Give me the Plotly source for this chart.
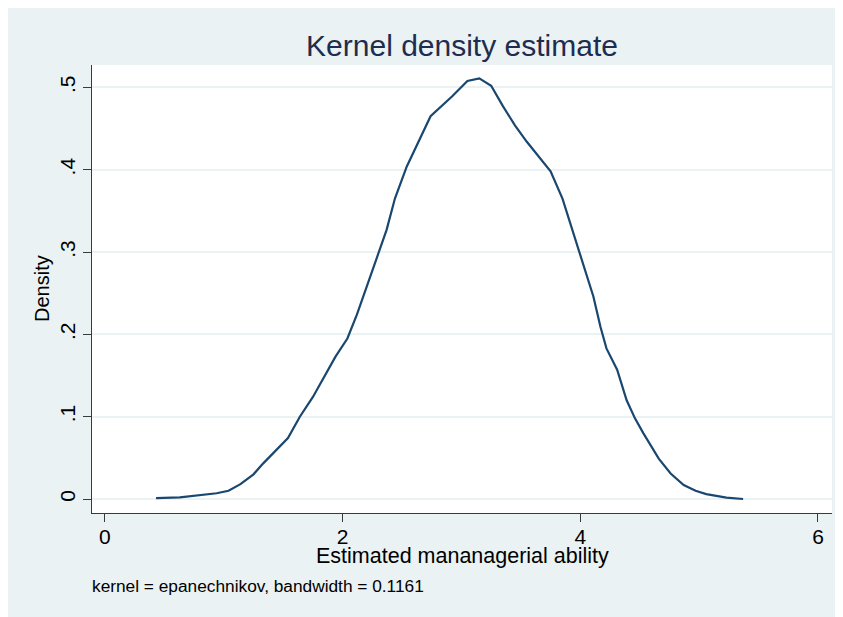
import plotly.graph_objects as go

# Data (kdensity curve)
ability = [0.43, 0.63, 0.94, 1.04, 1.14, 1.25, 1.33, 1.54, 1.64, 1.75, 1.94, 2.04,
           2.12, 2.20, 2.29, 2.37, 2.44, 2.54, 2.65, 2.74, 2.92, 3.05, 3.15, 3.25,
           3.35, 3.45, 3.55, 3.75, 3.85, 4.00, 4.05, 4.11, 4.17, 4.22, 4.31, 4.39,
           4.46, 4.53, 4.66, 4.76, 4.87, 4.97, 5.06, 5.23, 5.37]
density = [0.001, 0.002, 0.007, 0.010, 0.018, 0.030, 0.043, 0.074, 0.100, 0.124, 0.173, 0.195,
           0.224, 0.258, 0.294, 0.327, 0.365, 0.404, 0.438, 0.465, 0.489, 0.508, 0.511, 0.502,
           0.477, 0.454, 0.434, 0.398, 0.365, 0.298, 0.274, 0.246, 0.209, 0.183, 0.157, 0.120,
           0.098, 0.080, 0.049, 0.031, 0.017, 0.010, 0.006, 0.0016, 0.0]

x_ticks = [0, 2, 4, 6]
x_tick_labels = ["0", "2", "4", "6"]
y_ticks = [0, 0.1, 0.2, 0.3, 0.4, 0.5]
y_tick_labels = ["0", ".1", ".2", ".3", ".4", ".5"]

W, H = 843, 617
ML, MR, MT, MB = 84, 19, 57, 112
PW, PH = W - ML - MR, H - MT - MB

def px_x(p):
    return (p - ML) / PW

def px_y(p):
    return (H - MB - p) / PH

FONT = "Liberation Sans, Arial, sans-serif"
BG = "#EAF2F3"
NAVY = "#1A476F"
AXIS = "#3a3a3a"

fig = go.Figure()
fig.add_trace(go.Scatter(x=ability, y=density, mode="lines",
                         line=dict(color=NAVY, width=2.2), hoverinfo="skip",
                         showlegend=False))

fig.update_layout(
    width=W, height=H,
    margin=dict(l=ML, r=MR, t=MT, b=MB, pad=0),
    paper_bgcolor=BG, plot_bgcolor="white",
    font=dict(family=FONT, color="black"),
    title=dict(text="Kernel density estimate", x=0.5, xref="paper",
               y=1 - 37 / H, yref="container", yanchor="middle", xanchor="center",
               font=dict(family=FONT, size=30, color="#1E2D4F")),
    xaxis=dict(range=[-0.109, 6.118], tickvals=x_ticks, ticktext=x_tick_labels,
               showgrid=False, zeroline=False, showline=True, linecolor=AXIS,
               linewidth=1, ticks="outside", ticklen=8, tickcolor=AXIS, tickwidth=1,
               ticklabelstandoff=-3,
               tickfont=dict(size=21, color="black"), fixedrange=True),
    yaxis=dict(range=[-0.017, 0.5273], tickvals=y_ticks, ticktext=y_tick_labels,
               showgrid=True, gridcolor=BG, gridwidth=2, zeroline=False,
               showline=True, linecolor=AXIS, linewidth=1, ticks="outside",
               ticklen=8, tickcolor=AXIS, tickwidth=1, tickangle=-90,
               tickfont=dict(size=21, color="black"), fixedrange=True),
    annotations=[
        dict(text="Estimated mananagerial ability", xref="paper", yref="paper",
             x=0.5, y=px_y(548), xanchor="center", yanchor="middle", showarrow=False,
             font=dict(family=FONT, size=21.5, color="black")),
        dict(text="Density", xref="paper", yref="paper", x=px_x(34), y=0.5,
             xanchor="center", yanchor="middle", textangle=-90, showarrow=False,
             font=dict(family=FONT, size=20, color="black")),
        dict(text="kernel = epanechnikov, bandwidth = 0.1161", xref="paper", yref="paper",
             x=0, y=px_y(578), xanchor="left", yanchor="middle", showarrow=False,
             xshift=-2, font=dict(family=FONT, size=17.3, color="black")),
    ],
)

fig.write_html("out.html")
